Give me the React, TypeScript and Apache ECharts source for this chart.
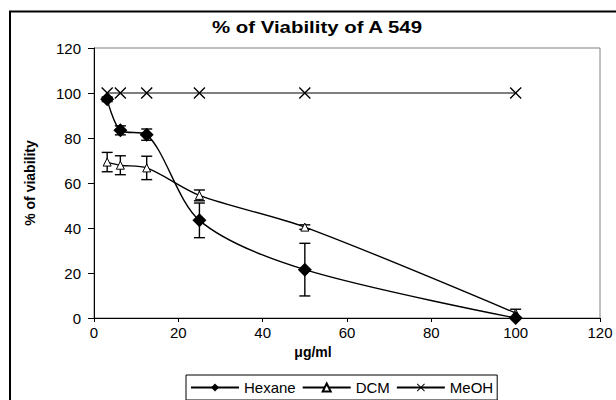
import React, { useEffect, useRef } from "react";
import * as echarts from "echarts";

const concentrations = [3.125, 6.25, 12.5, 25, 50, 100];
const hexane = [97.2, 83.4, 81.5, 43.4, 21.5, 0];
const hexaneErr = [1, 2, 2.5, 7.7, 11.7, 0];
const dcm = [69.3, 67.9, 66.7, 54.5, 40.4, 2.2];
const dcmErr = [4.3, 4.2, 5.2, 2.4, 1, 1.7];
const meoh = [100, 100, 100, 100, 100, 100];
const seriesNames = ["Hexane", "DCM", "MeOH"];
const xTicks = { min: 0, max: 120, interval: 20 };
const yTicks = { min: 0, max: 120, interval: 20 };
const titleText = "% of Viability of A 549";
const xName = "μg/ml";
const yName = "% of viability";

const FONT = "'Liberation Sans', Arial, sans-serif";
const X_PATH =
  "path://M0,0.08 L0.08,0 L0.5,0.42 L0.92,0 L1,0.08 L0.58,0.5 L1,0.92 L0.92,1 L0.5,0.58 L0.08,1 L0,0.92 L0.42,0.5 Z";

function errData(vals: number[], errs: number[]) {
  return concentrations.map((x, i) => [x, vals[i], errs[i]]);
}

function errorSeries(name: string, vals: number[], errs: number[]) {
  return {
    type: "custom",
    name: name + " err",
    data: errData(vals, errs),
    encode: { x: 0, y: 1 },
    z: 3,
    silent: true,
    renderItem: (params: any, api: any) => {
      const x = api.value(0);
      const y = api.value(1);
      const e = api.value(2);
      if (!e) return null;
      const hi = api.coord([x, y + e]);
      const lo = api.coord([x, y - e]);
      const w = 5.5;
      const st = { stroke: "#000", lineWidth: 1.4 };
      return {
        type: "group",
        children: [
          { type: "line", shape: { x1: hi[0], y1: hi[1], x2: lo[0], y2: lo[1] }, style: st },
          { type: "line", shape: { x1: hi[0] - w, y1: hi[1], x2: hi[0] + w, y2: hi[1] }, style: st },
          { type: "line", shape: { x1: lo[0] - w, y1: lo[1], x2: lo[0] + w, y2: lo[1] }, style: st },
        ],
      };
    },
  };
}

export default function App() {
  const ref = useRef<HTMLDivElement>(null);
  useEffect(() => {
    if (!ref.current) return;
    const chart = echarts.init(ref.current, null, { renderer: "svg" });
    const pts = (vals: number[]) => concentrations.map((x, i) => [x, vals[i]]);
    chart.setOption({
      animation: false,
      backgroundColor: "#fff",
      textStyle: { fontFamily: FONT },
      graphic: [
        {
          type: "rect",
          shape: { x: 10, y: 11.5, width: 700, height: 500 },
          style: { fill: "none", stroke: "#000", lineWidth: 2 },
          silent: true,
        },
        {
          type: "text",
          x: 317,
          y: 27,
          scaleX: 1.2,
          style: {
            text: titleText,
            fontFamily: FONT,
            fontWeight: "bold",
            fontSize: 17,
            fill: "#000",
            align: "center",
            verticalAlign: "middle",
          },
        },
      ],
      grid: {
        left: 94,
        right: 16,
        top: 48,
        bottom: 82,
        show: true,
        borderColor: "#808080",
        borderWidth: 1,
        backgroundColor: "transparent",
      },
      legend: {
        data: seriesNames,
        left: 186,
        top: 375,
        padding: [5, 4, 5, 4],
        itemGap: 6,
        itemWidth: 48,
        itemHeight: 10,
        borderColor: "#000",
        borderWidth: 1,
        textStyle: { fontFamily: FONT, fontSize: 15, color: "#000" },
      },
      xAxis: {
        type: "value",
        min: xTicks.min,
        max: xTicks.max,
        interval: xTicks.interval,
        name: xName,
        nameLocation: "middle",
        nameGap: 22,
        nameTextStyle: {
          fontFamily: FONT,
          fontWeight: "bold",
          fontSize: 14,
          color: "#000",
          padding: [0, 68, 0, 0],
        },
        axisLine: { lineStyle: { color: "#000", width: 1 } },
        axisTick: { length: 4, lineStyle: { color: "#000" } },
        axisLabel: { fontFamily: FONT, fontSize: 15, color: "#000", margin: 7 },
        splitLine: { show: false },
      },
      yAxis: {
        type: "value",
        min: yTicks.min,
        max: yTicks.max,
        interval: yTicks.interval,
        name: yName,
        nameLocation: "middle",
        nameGap: 57,
        nameTextStyle: { fontFamily: FONT, fontWeight: "bold", fontSize: 14, color: "#000" },
        axisLine: { show: true, lineStyle: { color: "#000", width: 1 } },
        axisTick: { show: true, length: 6, lineStyle: { color: "#000" } },
        axisLabel: { fontFamily: FONT, fontSize: 15, color: "#000", margin: 13 },
        splitLine: { show: false },
      },
      series: [
        {
          type: "line",
          name: seriesNames[0],
          data: pts(hexane),
          smooth: 0.3,
          symbol: "diamond",
          symbolSize: [14, 14],
          itemStyle: { color: "#000" },
          lineStyle: { color: "#000", width: 1.4 },
          z: 5,
        },
        {
          type: "line",
          name: seriesNames[1],
          data: pts(dcm),
          smooth: 0.3,
          symbol: "triangle",
          symbolSize: 8,
          itemStyle: { color: "#fff", borderColor: "#000", borderWidth: 1 },
          lineStyle: { color: "#000", width: 1.4 },
          z: 4,
        },
        {
          type: "line",
          name: seriesNames[2],
          data: pts(meoh),
          symbol: X_PATH,
          symbolSize: 12,
          itemStyle: { color: "#000" },
          lineStyle: { color: "#000", width: 1.2 },
          z: 4,
        },
        errorSeries("Hexane", hexane, hexaneErr),
        errorSeries("DCM", dcm, dcmErr),
      ],
    });
    return () => chart.dispose();
  }, []);
  return (
    <div
      ref={ref}
      style={{ position: "absolute", left: 0, top: 0, width: 616, height: 400 }}
    />
  );
}
